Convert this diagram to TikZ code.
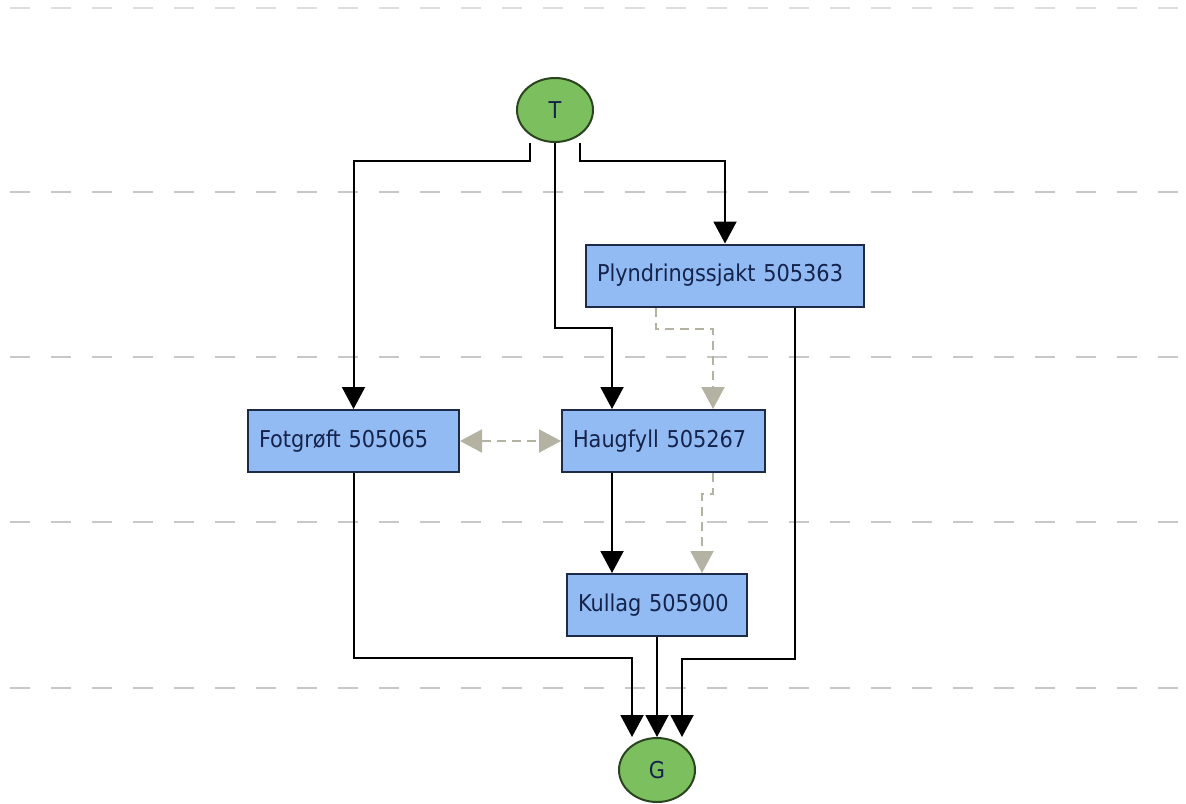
\documentclass[tikz,border=0pt]{standalone}
\usepackage{fontspec}
\setmainfont{DejaVu Sans Condensed}
\usepackage{xcolor}
\usetikzlibrary{positioning,arrows.meta,shapes.geometric}
\definecolor{boxblue}{HTML}{93BBF3}
\definecolor{boxline}{HTML}{1E2B48}
\definecolor{textnavy}{HTML}{14234B}
\definecolor{termgreen}{HTML}{7CBF5E}
\definecolor{termline}{HTML}{2B4420}
\definecolor{linkgrey}{HTML}{B4B2A2}
\definecolor{lanegrey}{HTML}{C8C8C8}

\begin{document}
\begin{tikzpicture}[x=0.5pt,y=-0.5pt,
    every node/.style={font=\fontsize{11.6}{13}\selectfont,text=textnavy},
    box/.style={draw=boxline,fill=boxblue,line width=1pt,minimum height=31pt,
      inner xsep=5.5pt,align=left},
    term/.style={ellipse,draw=termline,fill=termgreen,line width=1pt,
      minimum width=38pt,minimum height=32pt,inner sep=0pt},
    flow/.style={line width=1pt,-{Triangle[width=11.5pt,length=11pt]}},
    link/.style={line width=1pt,linkgrey,dash pattern=on 4.5pt off 3pt,
      -{Triangle[width=11.5pt,length=11pt]}},
    lane/.style={line width=1pt,lanegrey,dash pattern=on 10pt off 10.5pt}]
  \useasboundingbox (0,0) rectangle (1186,803);
  % swimlane separators
  \draw[lane,lanegrey!60] (10,8) -- (1186,8);
  \foreach \y in {192,357,522,688}
    \draw[lane] (10,\y) -- (1186,\y);

  \node[term] (T) at (555,110) {T};
  \node[term] (G) at (657,770) {G};
  \node[box,text width=128pt] (Plyn) at (725,275.5) {Plyndringssjakt 505363};
  \node[box,text width=94.5pt] (Fot) at (353.5,441) {Fotgrøft 505065};
  \node[box,text width=90.5pt] (Haug) at (663.5,441) {Haugfyll 505267};
  \node[box,text width=79pt] (Kull) at (657,605) {Kullag 505900};

  % solid connectors
  \draw[flow] ([xshift=-12.5pt]T.south) -- ++(0,18) -| (Fot.north);
  \draw[flow] (T.south) -- ++(0,185) -| ([xshift=-25.75pt]Haug.north);
  \draw[flow] ([xshift=12.5pt]T.south) -- ++(0,18) -| (Plyn.north);
  \draw[flow] ([xshift=-25.75pt]Haug.south) coordinate (hk) -- (hk |- Kull.north);
  \draw[flow] (Fot.south) -- ++(0,185) -| ([xshift=-12.5pt]G.north);
  \draw[flow] (Kull.south) -- (G.north);
  \draw[flow] ([xshift=35pt]Plyn.south) -- ++(0,351) -| ([xshift=12.5pt]G.north);

  % dashed links
  \draw[link] ([xshift=-34.5pt]Plyn.south) -- ++(0,21) -| ([xshift=24.75pt]Haug.north);
  \draw[link] ([xshift=24.75pt]Haug.south) -- ++(0,21) -| ([xshift=22.5pt]Kull.north);
  \draw[link,{Triangle[width=11.5pt,length=11pt]}-{Triangle[width=11.5pt,length=11pt]}]
    (Fot.east) -- (Haug.west);
\end{tikzpicture}
\end{document}
